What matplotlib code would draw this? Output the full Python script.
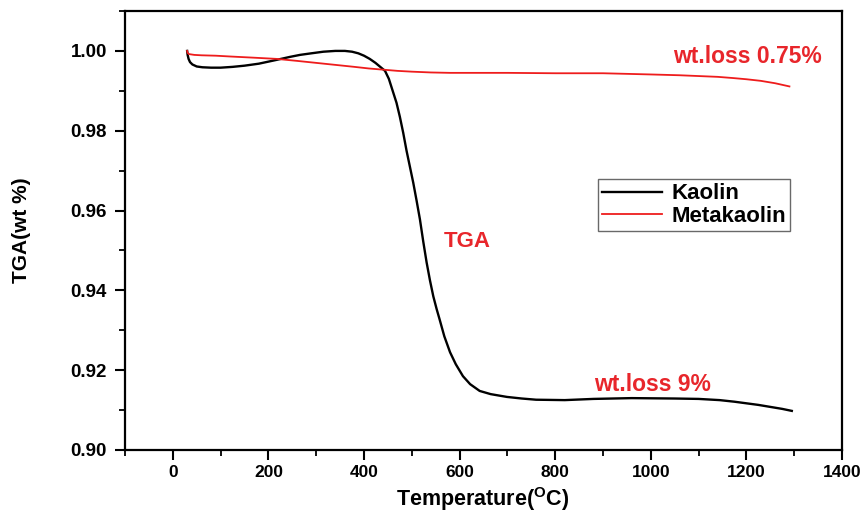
import matplotlib
matplotlib.use("Agg")
import matplotlib.pyplot as plt
from matplotlib.ticker import MultipleLocator

plt.rcParams['font.family'] = ['Liberation Sans', 'DejaVu Sans']
plt.rcParams['font.weight'] = 'bold'
plt.rcParams['mathtext.fontset'] = 'custom'
plt.rcParams['mathtext.rm'] = 'Liberation Sans:bold'
plt.rcParams['mathtext.bf'] = 'Liberation Sans:bold'

kaolin_t = [30, 31, 33, 36, 41, 50, 62, 80, 100, 125, 150, 180, 217, 245, 266, 290,
            315, 340, 360, 375, 388, 400, 412, 424, 434, 444, 452, 460, 468, 475,
            482, 489, 496, 503, 510, 517, 524, 531, 538, 545, 552, 558, 568, 580,
            592, 607, 622, 642, 665, 699, 730, 760, 820, 880, 960, 1050, 1100, 1144,
            1175, 1200, 1225, 1250, 1275, 1295]
kaolin_w = [1.0000, 0.9990, 0.9980, 0.9972, 0.9966, 0.9961, 0.9959, 0.9958, 0.9958,
            0.9960, 0.9963, 0.9968, 0.99775, 0.9985, 0.9990, 0.9994, 0.9998, 1.0000,
            1.0000, 0.9998, 0.9994, 0.9988, 0.9980, 0.9970, 0.9960, 0.9950, 0.9930,
            0.9900, 0.9870, 0.9835, 0.9795, 0.9750, 0.9710, 0.9670, 0.9625, 0.9578,
            0.9522, 0.9470, 0.9425, 0.9385, 0.9353, 0.9328, 0.9285, 0.9245, 0.9215,
            0.9185, 0.9165, 0.9148, 0.9140, 0.9133, 0.9129, 0.9126, 0.9125, 0.9128,
            0.9130, 0.9129, 0.9128, 0.9125, 0.9121, 0.9117, 0.9113, 0.9108, 0.9103,
            0.9098]

meta_t = [30, 31, 34, 45, 60, 90, 120, 170, 217, 260, 300, 340, 380, 410, 440, 470,
          500, 540, 580, 640, 700, 800, 900, 1000, 1060, 1100, 1140, 1172, 1200,
          1230, 1260, 1290]
meta_w = [1.0000, 0.9995, 0.9992, 0.9990, 0.9989, 0.9988, 0.9986, 0.9983, 0.9980,
          0.9975, 0.9970, 0.9965, 0.9960, 0.9956, 0.9953, 0.9950, 0.9948, 0.9946,
          0.9945, 0.9945, 0.9945, 0.9944, 0.9944, 0.9941, 0.9939, 0.9937, 0.9935,
          0.9932, 0.9929, 0.9925, 0.9919, 0.9911]

series_labels = ["Kaolin", "Metakaolin"]
x_ticks = [0, 200, 400, 600, 800, 1000, 1200, 1400]
y_ticks = [0.90, 0.92, 0.94, 0.96, 0.98, 1.00]

fig = plt.figure(figsize=(8.61, 5.16), dpi=100)
ax = fig.add_axes([125/861, 1-450/516, (842-125)/861, (450-11)/516])

ax.plot(kaolin_t, kaolin_w, color='black', lw=1.7, label=series_labels[0])
ax.plot(meta_t, meta_w, color='#ee1c1c', lw=1.3, label=series_labels[1])

ax.set_xlim(-100, 1400)
ax.set_ylim(0.90, 1.01)
ax.set_xticks(x_ticks)
ax.set_yticks(y_ticks)
ax.set_yticklabels([f"{v:.2f}" for v in y_ticks])
ax.xaxis.set_minor_locator(MultipleLocator(100))
ax.yaxis.set_minor_locator(MultipleLocator(0.01))

for s in ax.spines.values():
    s.set_linewidth(1.6)
ax.tick_params(which='major', direction='out', length=7, width=1.5, pad=4)
ax.tick_params(which='minor', direction='out', length=4, width=1.3)
ax.tick_params(top=False, right=False, which='both')
ax.tick_params(axis='y', pad=6, labelsize=13.5)
ax.tick_params(axis='x', labelsize=12.5)

ax.set_xlabel(r"Temperature($^{\mathrm{O}}$C)", fontsize=15.5, fontweight='bold')
ax.xaxis.set_label_coords(0.499, -0.080)
ax.set_ylabel("TGA(wt %)", fontsize=15, fontweight='bold')
ax.yaxis.set_label_coords(-0.131, 0.5)

red = '#e8262b'
ax.text(1358, 0.9985, "wt.loss 0.75%", color=red, fontsize=16.5, fontweight='bold',
        ha='right', va='center')
ax.text(1004, 0.9165, "wt.loss 9%", color=red, fontsize=16.5, fontweight='bold',
        ha='center', va='center')
ax.text(617, 0.9523, "TGA", color=red, fontsize=16, fontweight='bold',
        ha='center', va='center')

leg = ax.legend(loc='upper left', bbox_to_anchor=(598/861, 1-179/516),
                bbox_transform=fig.transFigure, fontsize=16, frameon=True,
                fancybox=False, handlelength=2.7, handletextpad=0.4,
                borderpad=0.2, labelspacing=0.05, borderaxespad=0)
leg.get_frame().set_edgecolor('#444444')
leg.get_frame().set_linewidth(1.0)
for t in leg.get_texts():
    t.set_fontweight('bold')

fig.savefig("out.png", dpi=100)
